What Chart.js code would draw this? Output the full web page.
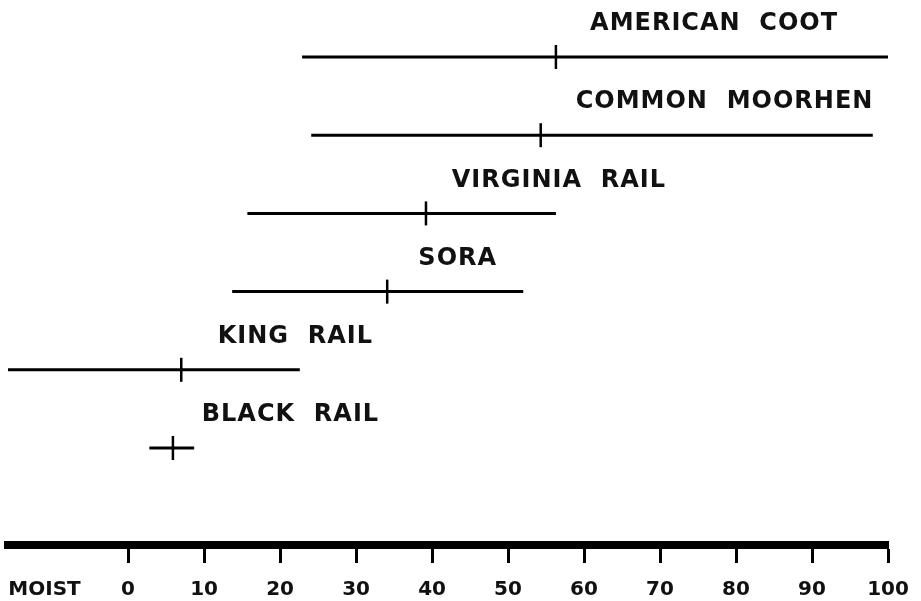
<!DOCTYPE html>
<html>
<head>
<meta charset="utf-8">
<script src="https://cdn.jsdelivr.net/npm/chart.js@4/dist/chart.umd.min.js"></script>
<style>
  html, body { margin: 0; padding: 0; background: #fff; }
  #wrap { width: 921px; height: 601px; }
</style>
</head>
<body>
<div id="wrap"><canvas id="chart"></canvas></div>
<script>
/* Feuchte-Bereiche der Rallen (Spannweite + Mittelwert) */
const species   = ['AMERICAN  COOT', 'COMMON  MOORHEN', 'VIRGINIA  RAIL', 'SORA', 'KING  RAIL', 'BLACK  RAIL'];
const rangeLow  = [22.9, 24.1, 15.7, 13.7, -15.8, 2.8];
const rangeHigh = [100, 98, 56.3, 52, 22.6, 8.7];
const means     = [56.3, 54.3, 39.2, 34.1, 7.0, 5.9];
const labelAt   = [60.8, 58.9, 42.6, 38.2, 11.8, 9.7];   // linker Rand der Beschriftung (Skalenwert)
const xTicks    = [-11, 0, 10, 20, 30, 40, 50, 60, 70, 80, 90, 100];
const xTickText = ['MOIST', '0', '10', '20', '30', '40', '50', '60', '70', '80', '90', '100'];

const rowOf = i => species.length - i;

const datasets = species.map((s, i) => ({
  label: s,
  data: [{ x: rangeLow[i], y: rowOf(i) }, { x: rangeHigh[i], y: rowOf(i) }],
  showLine: true,
  borderColor: '#000',
  borderWidth: 3,
  pointRadius: 0,
}));
datasets.push({
  label: 'mean',
  data: means.map((m, i) => ({ x: m, y: rowOf(i) })),
  pointStyle: 'line',
  rotation: 90,
  pointRadius: 12,
  borderColor: '#000',
  borderWidth: 2.5,
});

const speciesLabels = {
  id: 'speciesLabels',
  afterDatasetsDraw(chart) {
    const { ctx, scales: { x, y } } = chart;
    ctx.save();
    ctx.fillStyle = '#111';
    ctx.font = 'bold 24px "DejaVu Sans"';
    ctx.letterSpacing = '1px';
    ctx.textBaseline = 'middle';
    species.forEach((s, i) => {
      ctx.fillText(s, x.getPixelForValue(labelAt[i]), y.getPixelForValue(rowOf(i)) - 33);
    });
    ctx.restore();
  }
};

new Chart(document.getElementById('chart'), {
  type: 'scatter',
  data: { datasets },
  plugins: [speciesLabels],
  options: {
    responsive: true,
    maintainAspectRatio: false,
    animation: false,
    layout: { autoPadding: false, padding: { left: 8, right: 33, top: 0, bottom: 0 } },
    plugins: { legend: { display: false }, tooltip: { enabled: false } },
    scales: {
      x: {
        type: 'linear',
        min: -15.8,
        max: 100,
        afterBuildTicks: sc => { sc.ticks = xTicks.map(v => ({ value: v })); },
        afterFit: sc => { sc.height = 56; sc.paddingLeft = 0; sc.paddingRight = 0; },
        border: { display: true, color: '#000', width: 8 },
        grid: {
          drawOnChartArea: false,
          tickLength: 18,
          tickWidth: 3,
          tickColor: c => (c.tick && c.tick.value < 0 ? 'rgba(0,0,0,0)' : '#000'),
        },
        ticks: {
          color: '#111',
          padding: 15,
          maxRotation: 0,
          autoSkip: false,
          font: { family: 'DejaVu Sans', size: 20, weight: 'bold' },
          callback: v => xTickText[xTicks.indexOf(v)],
        },
      },
      y: {
        type: 'linear',
        display: false,
        min: -0.24,
        max: 6.729,
      },
    },
  },
});
</script>
</body>
</html>
